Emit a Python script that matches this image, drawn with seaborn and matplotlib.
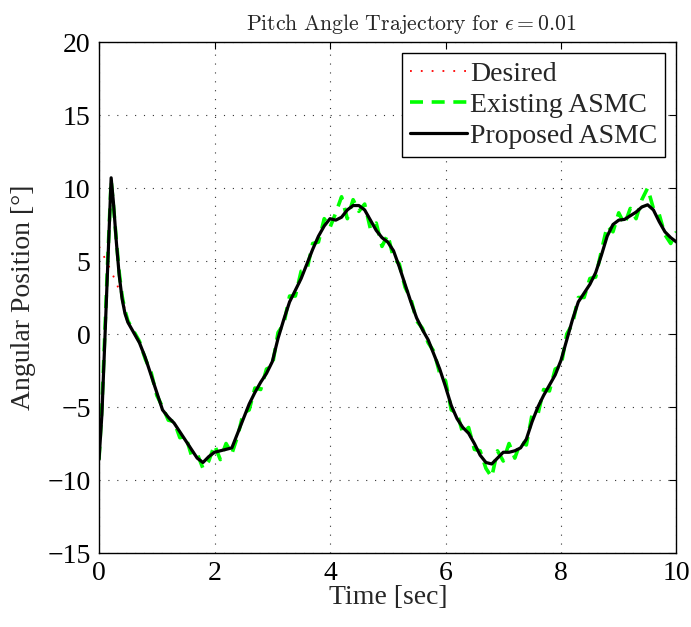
import numpy as np
import pandas as pd
import matplotlib
matplotlib.use("Agg")
import matplotlib.pyplot as plt
import seaborn as sns

# ---------------- data ----------------
t_desired = [round(0.1 * i, 1) for i in range(101)]
desired = [6.0, 5.2, 4.4, 3.5, 2.5, 0.8, 0.1, -0.6, -1.6, -2.8,
           -4.0, -5.2, -5.7, -6.1, -6.7, -7.3, -7.9, -8.5, -8.8, -8.4,
           -8.1, -8.0, -7.9, -7.8, -6.8, -5.8, -4.8, -4.0, -3.3, -2.7,
           -1.9, -0.3, 1.0, 2.2, 3.0, 3.8, 4.8, 5.8, 6.7, 7.4,
           7.9, 7.8, 8.0, 8.5, 8.8, 8.8, 8.5, 7.8, 7.1, 6.6,
           6.3, 5.7, 4.6, 3.4, 2.2, 1.1, 0.3, -0.4, -1.4, -2.4,
           -3.6, -4.9, -5.8, -6.4, -6.8, -7.5, -8.3, -8.8, -8.9, -8.5,
           -8.1, -8.1, -8.0, -7.8, -7.2, -6.0, -5.0, -4.2, -3.5, -2.8,
           -1.8, -0.4, 1.0, 2.2, 2.8, 3.4, 4.2, 5.4, 6.7, 7.5,
           7.8, 7.85, 8.1, 8.35, 8.7, 8.85, 8.5, 7.7, 7.0, 6.6,
           6.3]

t_early = [0.0, 0.05, 0.1, 0.15, 0.21, 0.25, 0.3, 0.35, 0.4, 0.45, 0.5]
t_control = t_early + t_desired[6:]

proposed_early = [-8.6, -5.5, -0.5, 4.6, 10.7, 9.0, 6.3, 4.0, 2.4, 1.4, 0.8]
proposed = proposed_early + desired[6:]

existing_early = [-8.6, -5.0, 0.0, 5.0, 10.5, 8.8, 6.4, 4.2, 2.6, 1.6, 0.9]
existing_tail = [0.2, -0.5, -1.7, -2.6,
                 -4.2, -5.0, -5.9, -6.0, -7.1, -7.0, -8.3, -8.2, -9.2, -8.7,
                 -7.6, -8.6, -7.5, -8.2, -7.0, -5.4, -5.2, -3.7, -3.8, -2.4,
                 -2.2, 0.1, 0.7, 2.6, 2.6, 4.3, 4.4, 6.2, 6.3, 7.9,
                 7.3, 8.3, 9.4, 7.9, 9.2, 8.4, 8.9, 7.2, 7.6, 6.0,
                 6.8, 5.2, 4.8, 3.2, 2.4, 0.9, 0.4, -0.6, -1.2, -2.7,
                 -3.2, -5.2, -5.4, -6.8, -6.4, -7.9, -8.0, -9.2, -9.8, -8.0,
                 -8.7, -7.5, -8.5, -7.4, -7.6, -5.5, -5.5, -3.8, -3.9, -2.4,
                 -2.2, 0.0, 0.7, 2.5, 2.5, 3.8, 3.9, 5.7, 7.4, 7.0,
                 8.3, 7.5, 8.6, 7.9, 9.2, 10.0, 8.6, 8.2, 6.8, 6.2,
                 7.0]
existing = existing_early + existing_tail

legend_labels = ["Desired", "Existing ASMC", "Proposed ASMC"]
x_ticks = [0, 2, 4, 6, 8, 10]
y_ticks = [-15, -10, -5, 0, 5, 10, 15, 20]

# ---------------- style ----------------
sns.set_theme(style="white")
plt.rcParams["font.family"] = ["Liberation Serif", "DejaVu Serif"]
plt.rcParams["mathtext.fontset"] = "cm"
plt.rcParams["axes.unicode_minus"] = True

fig = plt.figure(figsize=(6.91, 6.27), dpi=100)
ax = fig.add_axes([0.1433, 0.118, 0.8357, 0.815])

df_des = pd.DataFrame({"t": t_desired, "y": desired})
df_ex = pd.DataFrame({"t": t_control, "y": existing})
df_pr = pd.DataFrame({"t": t_control, "y": proposed})

sns.lineplot(data=df_des, x="t", y="y", ax=ax, color="red", linestyle=":",
             linewidth=1.3, label=legend_labels[0], estimator=None, sort=False)
ax.lines[-1].set_dashes([1, 5])
sns.lineplot(data=df_ex, x="t", y="y", ax=ax, color="#00ff00", linestyle="--",
             linewidth=2.6, label=legend_labels[1], estimator=None, sort=False)
ax.lines[-1].set_dashes([3.6, 2.4])
sns.lineplot(data=df_pr, x="t", y="y", ax=ax, color="black", linestyle="-",
             linewidth=2.3, label=legend_labels[2], estimator=None, sort=False)

ax.set_xlim(0, 10)
ax.set_ylim(-15, 20)
ax.set_xticks(x_ticks)
ax.set_yticks(y_ticks)
ax.tick_params(direction="in", length=5, width=0.8, top=True, right=True,
               labelsize=20, colors="black", pad=6)
ax.grid(True, linestyle=(0, (1, 7)), color="#333333", linewidth=0.8)
for s in ax.spines.values():
    s.set_visible(True)
    s.set_color("black")
    s.set_linewidth(1.0)

ax.set_xlabel("Time [sec]", fontsize=20, labelpad=-1)
ax.set_ylabel("Angular Position [°]", fontsize=20, labelpad=8)
ax.set_title(r"$\mathrm{Pitch\ Angle\ Trajectory\ for}\ \epsilon = 0.01$",
             fontsize=15.7, pad=9, x=0.54)

leg = ax.legend(loc="upper right", fontsize=20, frameon=True, fancybox=False,
                edgecolor="black", framealpha=1, handlelength=2.05,
                handletextpad=0.1, borderpad=0.3, labelspacing=0.2,
                borderaxespad=0.4)
leg.get_frame().set_linewidth(1.0)

fig.savefig("out.png", dpi=100)
